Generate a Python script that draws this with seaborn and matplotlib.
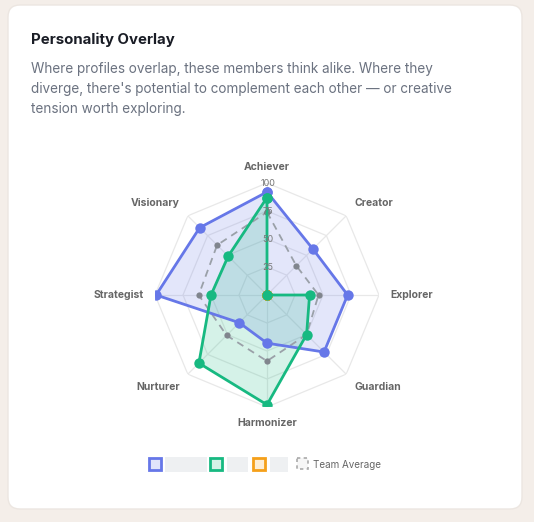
import numpy as np
import matplotlib
matplotlib.use('Agg')
import matplotlib.pyplot as plt
import seaborn as sns
from matplotlib.patches import FancyBboxPatch, Rectangle

traits = ['Achiever', 'Creator', 'Explorer', 'Guardian', 'Harmonizer', 'Nurturer', 'Strategist', 'Visionary']
member_a = [92, 58, 72, 72, 43, 35, 99, 85]
member_b = [87, 0, 38, 50, 98, 86, 50, 49]
member_c = [0, 0, 0, 0, 0, 0, 0, 0]
team_avg = [74, 37, 46, 50, 59, 51, 61, 63]
ticks = [25, 50, 75, 100]

blue = '#6677e8'
green = '#17b981'
orange = '#f5a01a'
gray = '#9aa0a8'

sns.set_theme(style='white')
plt.rcParams['font.family'] = ['Inter', 'DejaVu Sans']

fig = plt.figure(figsize=(5.34, 5.22), dpi=100)
fig.patch.set_facecolor('#f4eee9')

# background axes in pixel coordinates: card, title, legend
bg = fig.add_axes([0, 0, 1, 1])
bg.set_xlim(0, 534)
bg.set_ylim(522, 0)
bg.axis('off')
bg.add_patch(FancyBboxPatch((8, 5), 514, 504, boxstyle='round,pad=0,rounding_size=12',
                            facecolor='white', edgecolor='#ece6e1', linewidth=1))
bg.text(31, 40, 'Personality Overlay', fontsize=10.8, fontweight='bold', color='#1a1d26', va='center')
subtitle = ["Where profiles overlap, these members think alike. Where they",
            "diverge, there's potential to complement each other \u2014 or creative",
            "tension worth exploring."]
for i, line in enumerate(subtitle):
    bg.text(31, 69 + i * 20, line, fontsize=9.75, color='#6b7280', va='center')

# legend (member names are blanked out in the reference)
legend_items = [(149, blue, '#e0e4fb', 165, 42), (210, green, '#d6f2e7', 227, 21), (253, orange, '#fdeed6', 270, 18)]
for x0, ec, fc, bx, bw in legend_items:
    bg.add_patch(Rectangle((x0, 458), 12, 12, facecolor=fc, edgecolor=ec, linewidth=2))
    bg.add_patch(Rectangle((bx, 457), bw, 15, facecolor='#eef0f2', edgecolor='none'))
bg.add_patch(Rectangle((297, 458), 11, 11, facecolor='#f6f6f6', edgecolor='#aaaaaa',
                       linewidth=1.2, linestyle=(0, (2, 2))))
bg.text(313, 465, 'Team Average', fontsize=7.1, color='#666666', va='center')

# radar
ax = fig.add_axes([(267 - 112) / 534, (522 - 295 - 112) / 522, 224 / 534, 224 / 522], polar=True)
ax.set_facecolor('none')
ax.set_theta_offset(np.pi / 2)
ax.set_theta_direction(-1)
ax.set_ylim(0, 100)
ax.grid(False)
ax.spines['polar'].set_visible(False)
ax.set_xticks([])
ax.set_yticks([])

theta = np.linspace(0, 2 * np.pi, len(traits), endpoint=False)
theta_c = np.append(theta, theta[0])

for t in ticks:
    ax.plot(theta_c, [t] * len(theta_c), color='#e8e8e8', lw=0.9, zorder=1)
for t in theta:
    ax.plot([t, t], [0, 100], color='#e8e8e8', lw=0.9, zorder=1)


def closed(vals):
    return np.append(vals, vals[0])


sns.lineplot(x=theta_c, y=closed(team_avg), sort=False, estimator=None, ax=ax, color=gray,
             linestyle=(0, (4, 3)), lw=1.3, marker='o', markersize=4.5, markeredgewidth=0,
             markerfacecolor='#80858d', zorder=3)

for vals, col in [(member_a, blue), (member_c, orange), (member_b, green)]:
    ax.fill(theta_c, closed(vals), color=col, alpha=0.18, zorder=2)
    sns.lineplot(x=theta_c, y=closed(vals), sort=False, estimator=None, ax=ax, color=col,
                 lw=2, marker='o', markersize=7.5, markeredgewidth=0, zorder=4)

ax.set_xlabel('')
ax.set_ylabel('')
if ax.get_legend():
    ax.get_legend().remove()

for t in ticks:
    ax.text(0.01, t, str(t), fontsize=6.5, color='#777777', ha='center', va='center', zorder=5)

for t, name in zip(theta, traits):
    s, c = np.sin(t), np.cos(t)
    ha = 'center' if abs(s) < 0.1 else ('left' if s > 0 else 'right')
    va = 'center' if abs(c) < 0.1 else ('bottom' if c > 0 else 'top')
    ax.text(t, 110, name, fontsize=7.5, fontweight='bold', color='#666666', ha=ha, va=va)

ax.set_ylim(0, 100)
fig.savefig('out.png', dpi=100, facecolor=fig.get_facecolor())
